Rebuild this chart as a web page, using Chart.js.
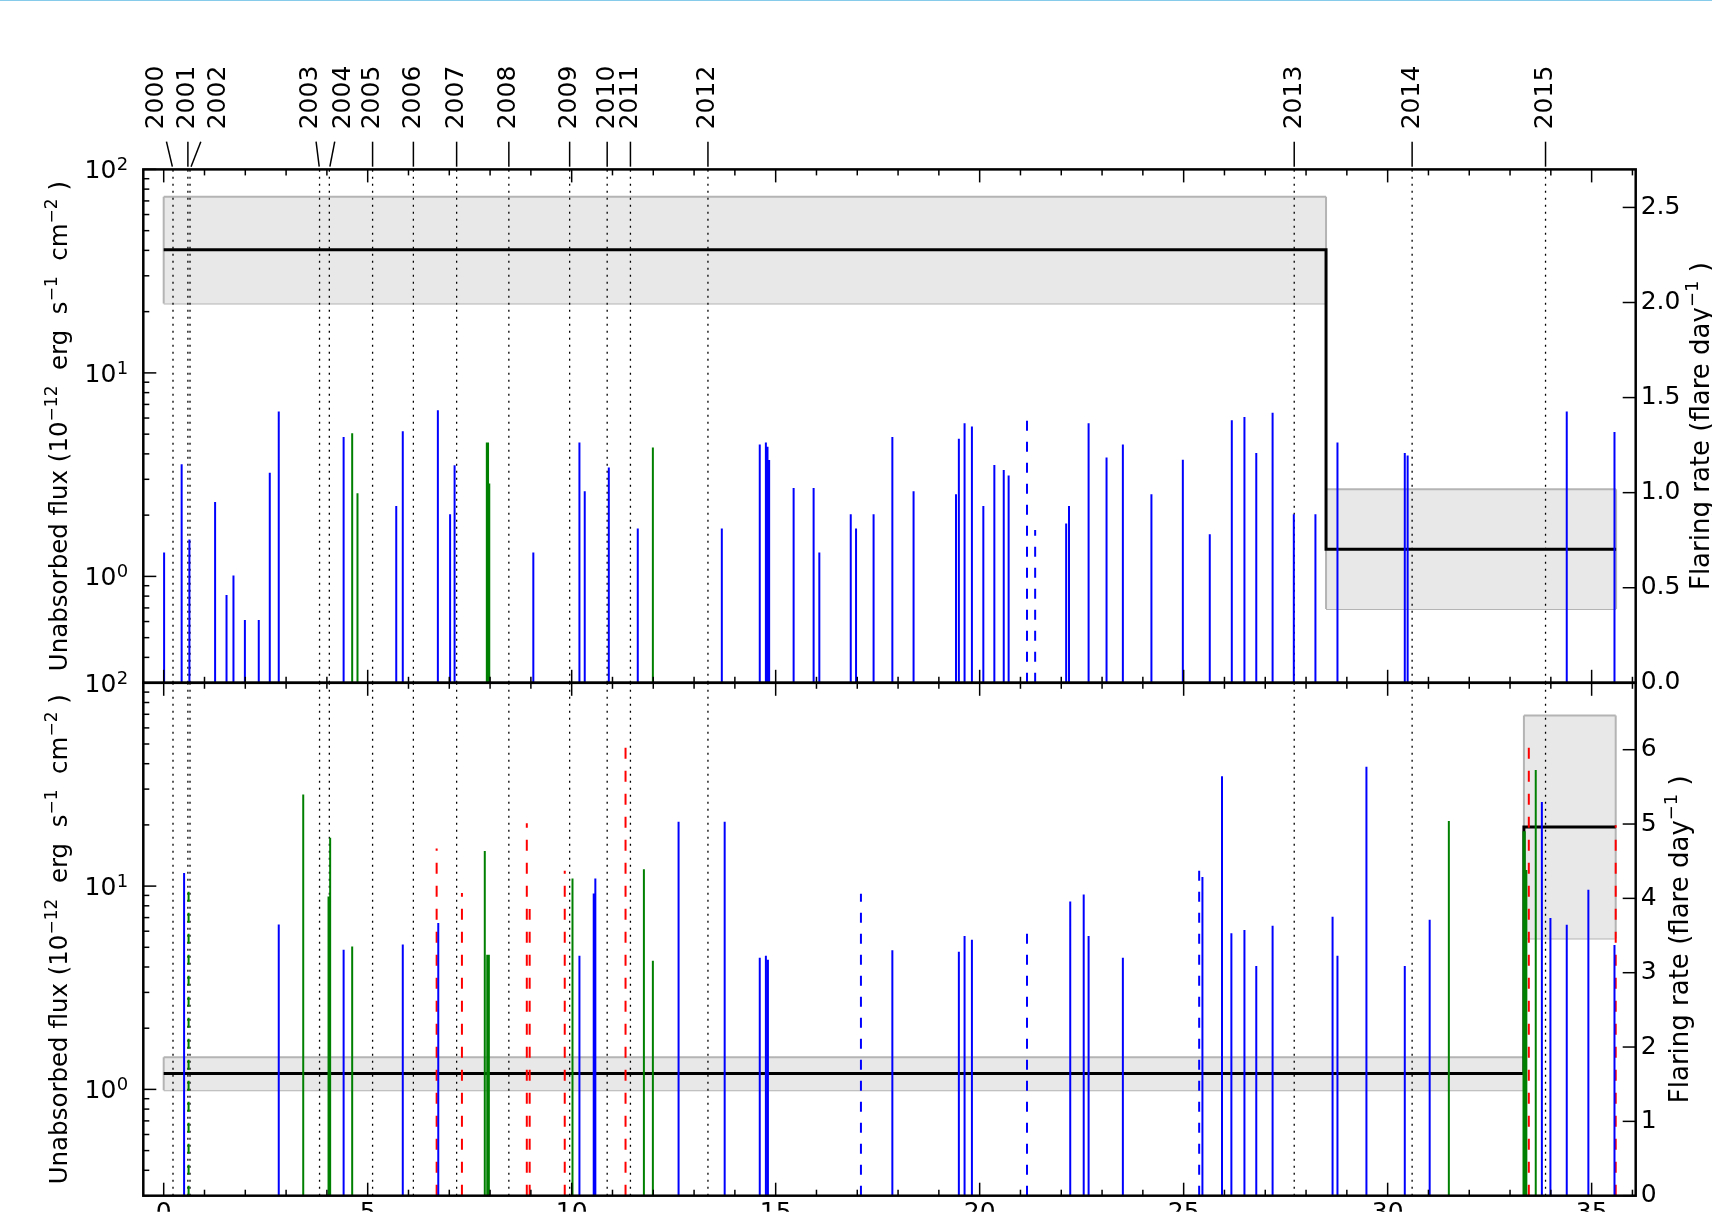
<!DOCTYPE html>
<html lang="en">
<head>
<meta charset="UTF-8">
<title>Flare fluxes and flaring rate</title>
<script src="https://cdn.jsdelivr.net/npm/chart.js"></script>
<style>
  html, body { margin: 0; padding: 0; background: #fff; }
  #wrap { position: relative; width: 1712px; height: 1212px; overflow: hidden; }
  #wrap canvas { position: absolute; left: 0; top: 0; }
  #topline { position: absolute; left: 0; top: 0; width: 1712px; height: 1px; background: #86cbea; }
</style>
</head>
<body>
<div id="wrap">
  <canvas id="topChart" width="1712" height="1212"></canvas>
  <canvas id="botChart" width="1712" height="1212"></canvas>
  <div id="topline"></div>
</div>
<script>
// ---- data (time in years since start, flux in 1e-12 erg/s/cm2, rate in flares/day) ----
const X_TICKS = [0, 5, 10, 15, 20, 25, 30, 35];

const YEAR_LABELS = ['2000','2001','2002','2003','2004','2005','2006','2007','2008','2009','2010','2011','2012','2013','2014','2015'];
const YEAR_T = [0.228, 0.593, 0.645, 3.82, 4.06, 5.12, 6.12, 7.18, 8.46, 9.95, 10.87, 11.44, 13.34, 27.71, 30.60, 33.87];

// top panel flares
const topBlueT = [0.01, 0.44, 0.63, 1.26, 1.54, 1.71, 1.99, 2.33, 2.60, 2.82, 4.41, 5.70, 5.86, 6.72, 7.02, 7.13,
  9.06, 10.19, 10.32, 10.91, 11.62, 13.68, 14.61, 14.76, 14.80, 14.84, 15.44, 15.93, 16.07, 16.84, 16.97, 17.40,
  17.86, 18.38, 19.42, 19.49, 19.63, 19.81, 20.09, 20.36, 20.59, 20.71, 22.12, 22.19, 22.67, 23.11, 23.51, 24.21,
  24.98, 25.64, 26.18, 26.49, 26.78, 27.18, 27.70, 28.23, 28.77, 30.42, 30.49, 34.39, 35.56];
const topBlueF = [1.31, 3.56, 1.52, 2.32, 0.81, 1.01, 0.61, 0.61, 3.23, 6.47, 4.84, 2.22, 5.16, 6.56, 2.02, 3.52,
  1.31, 4.55, 2.62, 3.43, 1.72, 1.72, 4.45, 4.55, 4.33, 3.73, 2.72, 2.72, 1.31, 2.02, 1.72, 2.02,
  4.84, 2.62, 2.53, 4.75, 5.65, 5.46, 2.22, 3.53, 3.33, 3.13, 1.82, 2.22, 5.65, 3.84, 4.45, 2.53,
  3.74, 1.61, 5.86, 6.07, 4.04, 6.37, 2.02, 2.02, 4.55, 4.04, 3.93, 6.47, 5.12];
const topGreenT = [4.62, 4.75, 7.92, 7.95, 7.98, 11.99];
const topGreenF = [5.05, 2.56, 4.55, 4.55, 2.86, 4.30];
const topBlueDashT = [21.16, 21.36];
const topBlueDashF = [6.04, 1.69];

// top panel flaring rate (step) and its uncertainty band
const topRateEdges = [0, 28.49, 35.6];
const topRate = [2.277, 0.703];
const topRateLo = [1.995, 0.388];
const topRateHi = [2.556, 1.018];
const topRateTicks = [0, 0.5, 1.0, 1.5, 2.0, 2.5];

// bottom panel flares
const botBlueT = [0.50, 2.82, 4.41, 5.86, 6.73, 10.19, 10.54, 10.58, 12.62, 13.75, 14.61, 14.76, 14.81, 17.86,
  19.49, 19.63, 19.81, 22.22, 22.55, 22.67, 23.51, 25.46, 25.94, 26.17, 26.49, 26.78, 27.18, 28.65, 28.77,
  29.48, 30.42, 31.03, 33.78, 33.99, 34.39, 34.92, 35.56];
const botBlueF = [11.6, 6.48, 4.86, 5.16, 6.58, 4.54, 9.2, 10.9, 20.7, 20.7, 4.44, 4.54, 4.34, 4.84,
  4.75, 5.68, 5.45, 8.4, 9.1, 5.68, 4.44, 11.1, 34.7, 5.87, 6.08, 4.04, 6.38, 7.06, 4.54,
  38.6, 4.04, 6.83, 25.9, 6.96, 6.45, 9.59, 5.13];
const botGreenT = [3.42, 4.04, 4.08, 4.62, 7.87, 7.93, 7.97, 10.02, 11.77, 11.99, 31.50, 33.33, 33.36, 33.40, 33.63];
const botGreenF = [28.2, 8.89, 17.3, 5.05, 14.9, 4.59, 4.59, 10.9, 12.1, 4.29, 20.9, 18.6, 18.6, 12.0, 37.2];
const botGreenDashT = [0.61];
const botGreenDashF = [9.84];
const botRedDashT = [6.69, 7.31, 8.90, 8.97, 9.83, 11.32, 33.46, 35.59];
const botRedDashF = [15.3, 9.24, 20.4, 7.71, 11.9, 49.3, 53.4, 19.9];
const botBlueDashT = [17.09, 21.16, 25.38];
const botBlueDashF = [9.17, 6.05, 12.4];

const botRateEdges = [0, 33.34, 35.59];
const botRate = [1.645, 4.96];
const botRateLo = [1.42, 3.46];
const botRateHi = [1.864, 6.46];
const botRateTicks = [0, 1, 2, 3, 4, 5, 6];

// ---- layout ----
const X_MIN = -0.5, X_MAX = 36.08;
const FLUX_MIN = 0.3, FLUX_MAX = 100;
const LEFT = 143.3, RIGHT = 1635.7, MID = 682.8;
const AXW = 60;
const FONT = '"DejaVu Sans", sans-serif';
Chart.defaults.font.family = FONT;

const BLUE = '#0000ff', GREEN = '#008000', RED = '#ff0000';

function stemData(ts, fs) {
  const pts = [];
  ts.forEach((t, i) => { pts.push({x: t, y: FLUX_MIN}, {x: t, y: fs[i]}, {x: t, y: null}); });
  return pts;
}
function stems(ts, fs, color, dash) {
  return { data: stemData(ts, fs), yAxisID: 'y', borderColor: color, borderWidth: 2,
    borderDash: dash || [], pointRadius: 0, fill: false, spanGaps: false, order: 0, borderCapStyle: 'butt' };
}
function yearLines(ymax) {
  const pts = [];
  YEAR_T.forEach(t => pts.push({x: t, y: 0}, {x: t, y: ymax}, {x: t, y: null}));
  return { data: pts, yAxisID: 'y2', borderColor: '#000', borderWidth: 1.3, borderDash: [2, 5],
    pointRadius: 0, fill: false, spanGaps: false, order: 1 };
}
function rateSets(edges, rate, lo, hi) {
  const sets = [];
  for (let i = 0; i < rate.length; i++) {
    sets.push({ data: [{x: edges[i], y: hi[i]}, {x: edges[i + 1], y: hi[i]}], yAxisID: 'y2',
      borderColor: '#b4b4b4', borderWidth: 2, backgroundColor: '#e8e8e8', fill: '+1', pointRadius: 0, order: 4 });
    sets.push({ data: [{x: edges[i], y: lo[i]}, {x: edges[i + 1], y: lo[i]}], yAxisID: 'y2',
      borderColor: '#b4b4b4', borderWidth: 2, fill: false, pointRadius: 0, order: 4 });
  }
  const sides = [];
  for (let i = 0; i < rate.length; i++) {
    sides.push({x: edges[i], y: lo[i]}, {x: edges[i], y: hi[i]}, {x: edges[i], y: null});
    sides.push({x: edges[i + 1], y: lo[i]}, {x: edges[i + 1], y: hi[i]}, {x: edges[i + 1], y: null});
  }
  sets.push({ data: sides, yAxisID: 'y2', borderColor: '#b4b4b4', borderWidth: 2, fill: false,
    pointRadius: 0, spanGaps: false, order: 3 });
  const step = [];
  for (let i = 0; i < rate.length; i++) {
    step.push({x: edges[i], y: rate[i]}, {x: edges[i + 1], y: rate[i]});
  }
  sets.push({ data: step, yAxisID: 'y2', borderColor: '#000', borderWidth: 3, fill: false,
    pointRadius: 0, order: 2, borderJoinStyle: 'miter' });
  return sets;
}

function zeroPad(s) { s.paddingTop = 0; s.paddingBottom = 0; s.paddingLeft = 0; s.paddingRight = 0; }

function richText(ctx, parts, x, y, size, rot) {
  ctx.save();
  ctx.translate(x, y);
  ctx.rotate(rot);
  const sup = Math.round(size * 0.7);
  let w = 0;
  parts.forEach(p => { ctx.font = (p.sup ? sup : size) + 'px ' + FONT; p.w = ctx.measureText(p.t).width; w += p.w; });
  let cx = -w / 2;
  ctx.fillStyle = '#000';
  ctx.textAlign = 'left';
  ctx.textBaseline = 'alphabetic';
  parts.forEach(p => {
    ctx.font = (p.sup ? sup : size) + 'px ' + FONT;
    ctx.fillText(p.t, cx, p.sup ? -size * 0.42 : 0);
    cx += p.w;
  });
  ctx.restore();
}

function seg(ctx, x1, y1, x2, y2) { ctx.beginPath(); ctx.moveTo(x1, y1); ctx.lineTo(x2, y2); ctx.stroke(); }

const LOG_MAJOR = [1, 10, 100];
const LOG_MINOR = [];
[0.1, 1, 10].forEach(d => { for (let k = 2; k <= 9; k++) { const v = k * d; if (v >= FLUX_MIN - 1e-9 && v < FLUX_MAX) LOG_MINOR.push(v); } });

const YEAR_LABEL_SHIFT = [-17, 0, 28, -9, 14, 0, 0, 0, 0, 0, 0, 0, 0, 0, 0, 0];

const deco = {
  id: 'deco',
  afterDraw(chart, args, o) {
    const {ctx, chartArea: a, scales} = chart;
    const xs = scales.x, ys = scales.y, rs = scales.y2;
    ctx.save();
    ctx.strokeStyle = '#000';
    ctx.lineWidth = 1.5;
    for (let v = 0; v <= 36; v++) {
      const px = xs.getPixelForValue(v);
      const len = v % 5 === 0 ? 13 : 6;
      seg(ctx, px, a.top, px, a.top + len);
      seg(ctx, px, a.bottom, px, a.bottom - len);
    }
    LOG_MAJOR.forEach(v => { const py = ys.getPixelForValue(v); seg(ctx, a.left, py, a.left + 13, py); });
    LOG_MINOR.forEach(v => { const py = ys.getPixelForValue(v); seg(ctx, a.left, py, a.left + 6, py); });
    rs.ticks.forEach(t => { const py = rs.getPixelForValue(t.value); seg(ctx, a.right, py, a.right - 13, py); });
    ctx.lineWidth = 2.5;
    ctx.strokeRect(a.left, a.top, a.right - a.left, a.bottom - a.top);

    // log labels 10^n
    ctx.fillStyle = '#000';
    LOG_MAJOR.forEach(v => {
      const py = ys.getPixelForValue(v);
      ctx.font = '25px ' + FONT;
      ctx.textAlign = 'right';
      ctx.textBaseline = 'alphabetic';
      ctx.fillText('10', a.left - 27, py + 9);
      ctx.font = '18px ' + FONT;
      ctx.textAlign = 'left';
      ctx.fillText(String(Math.round(Math.log10(v))), a.left - 26.5, py + 1);
    });

    // axis titles
    const cy = (a.top + a.bottom) / 2;
    richText(ctx, [{t: 'Unabsorbed flux (10'}, {t: '\u221212', sup: true}, {t: '  erg  s'}, {t: '\u22121', sup: true},
      {t: '  cm'}, {t: '\u22122', sup: true}, {t: ' )'}], 67, cy, 24.5, -Math.PI / 2);
    richText(ctx, [{t: 'Flaring rate (flare day'}, {t: '\u22121', sup: true}, {t: ' )'}], o.rightTitleX, cy, 26, -Math.PI / 2);

    if (o.years) {
      ctx.font = '25px ' + FONT;
      ctx.lineWidth = 1.5;
      YEAR_T.forEach((t, i) => {
        const yx = xs.getPixelForValue(t);
        const lx = yx + YEAR_LABEL_SHIFT[i];
        const ly = 97.5;
        ctx.save();
        ctx.translate(lx, ly);
        ctx.rotate(-Math.PI / 2);
        ctx.textAlign = 'center';
        ctx.textBaseline = 'middle';
        ctx.fillText(YEAR_LABELS[i], 0, 0);
        ctx.restore();
        const f = y => yx + (lx - yx) * (a.top - y) / (a.top - ly);
        seg(ctx, f(141.7), 141.7, f(166.7), 166.7);
      });
    }
    ctx.restore();
  }
};

function panel(id, o) {
  return new Chart(document.getElementById(id), {
    type: 'line',
    data: { datasets: o.datasets },
    plugins: [deco],
    options: {
      responsive: false, animation: false, devicePixelRatio: 1,
      layout: { padding: { left: LEFT - AXW, right: 1712 - RIGHT - AXW, top: o.top, bottom: o.bottom } },
      plugins: { legend: { display: false }, tooltip: { enabled: false },
        deco: { years: o.years, rightTitleX: o.rightTitleX } },
      scales: {
        x: { type: 'linear', min: X_MIN, max: X_MAX, position: 'bottom',
          grid: { display: false, drawTicks: false }, border: { display: false },
          ticks: { display: o.showX, color: '#000', font: { size: 25 }, padding: 3, maxRotation: 0, autoSkip: false },
          afterBuildTicks: s => { s.ticks = X_TICKS.map(v => ({value: v})); },
          afterFit: s => { s.height = o.showX ? 16 : 0; zeroPad(s); } },
        y: { type: 'logarithmic', position: 'left', min: FLUX_MIN, max: FLUX_MAX,
          grid: { display: false, drawTicks: false }, border: { display: false }, ticks: { display: false },
          afterFit: s => { s.width = AXW; zeroPad(s); } },
        y2: { type: 'linear', position: 'right', min: 0, max: o.rateMax,
          grid: { display: false, drawTicks: false }, border: { display: false },
          ticks: { color: '#000', font: { size: 25 }, padding: 5, callback: v => o.fmt(v) },
          afterBuildTicks: s => { s.ticks = o.rateTicks.map(v => ({value: v})); },
          afterFit: s => { s.width = AXW; zeroPad(s); } }
      }
    }
  });
}

panel('topChart', {
  top: 169.4, bottom: 1212 - MID, showX: false, years: true, rightTitleX: 1709,
  rateMax: 2.7, rateTicks: topRateTicks, fmt: v => v.toFixed(1),
  datasets: [
    stems(topBlueT, topBlueF, BLUE),
    stems(topGreenT, topGreenF, GREEN),
    stems(topBlueDashT, topBlueDashF, BLUE, [10, 11]),
    yearLines(2.7),
    ...rateSets(topRateEdges, topRate, topRateLo, topRateHi)
  ]
});

panel('botChart', {
  top: MID, bottom: 1212 - 1195.7 - 16, showX: true, years: false, rightTitleX: 1688,
  rateMax: 6.9, rateTicks: botRateTicks, fmt: v => String(v),
  datasets: [
    stems(botBlueT, botBlueF, BLUE),
    stems(botGreenT, botGreenF, GREEN),
    stems(botGreenDashT, botGreenDashF, GREEN, [10, 11]),
    stems(botRedDashT, botRedDashF, RED, [11, 12]),
    stems(botBlueDashT, botBlueDashF, BLUE, [10, 11]),
    yearLines(6.9),
    ...rateSets(botRateEdges, botRate, botRateLo, botRateHi)
  ]
});
</script>
</body>
</html>
